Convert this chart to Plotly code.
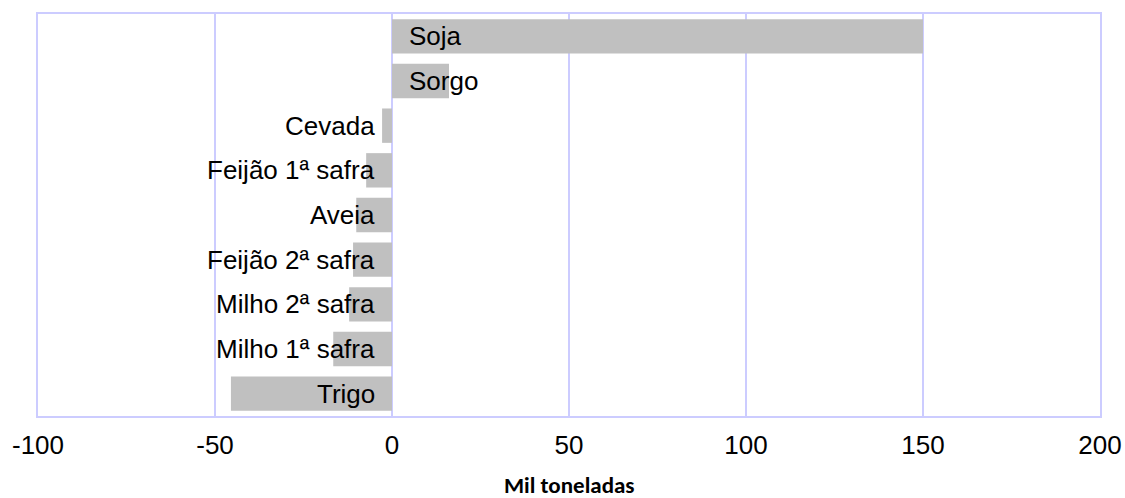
import plotly.graph_objects as go

# dados (mil toneladas), de cima para baixo
culturas = ["Soja", "Sorgo", "Cevada", "Feijão 1ª safra", "Aveia",
            "Feijão 2ª safra", "Milho 2ª safra", "Milho 1ª safra", "Trigo"]
variacao = [150, 16.1, -2.8, -7.3, -10.1, -11.0, -12.1, -16.6, -45.5]

# marcas do eixo x (hífen simples, como no original)
ticks_x = [-100, -50, 0, 50, 100, 150, 200]
ticks_txt = ["-100", "-50", "0", "50", "100", "150", "200"]

COR_BARRA = "#C0C0C0"
COR_GRADE = "#CCCCFF"
COR_TEXTO = "#000000"
FONTE = "Liberation Sans, Arial, sans-serif"

fig = go.Figure()
fig.add_trace(go.Bar(
    x=variacao,
    y=culturas,
    orientation="h",
    marker=dict(color=COR_BARRA, line=dict(width=0)),
    hoverinfo="x+y",
))

# rótulos das culturas junto ao eixo zero
for nome, val in zip(culturas, variacao):
    positivo = val >= 0
    fig.add_annotation(
        x=0, y=nome, text=nome, showarrow=False,
        xanchor="left" if positivo else "right",
        xshift=15 if positivo else -15,
        font=dict(family=FONTE, size=26, color=COR_TEXTO),
    )

fig.add_annotation(
    x=0.5, y=-0.172, xref="paper", yref="paper", text="<b>Mil toneladas</b>",
    showarrow=False, xanchor="center", yanchor="middle",
    font=dict(family="Carlito, Lato, sans-serif", size=23, color=COR_TEXTO),
)

fig.update_layout(
    width=1125, height=498,
    paper_bgcolor="#FFFFFF", plot_bgcolor="#FFFFFF",
    margin=dict(l=38, r=25, t=14, b=82),
    bargap=0.23,
    showlegend=False,
    xaxis=dict(
        range=[-100, 200], tickvals=ticks_x, ticktext=ticks_txt,
        showgrid=True, gridcolor=COR_GRADE, gridwidth=2,
        zeroline=True, zerolinecolor=COR_GRADE, zerolinewidth=2,
        showline=True, linecolor=COR_GRADE, linewidth=2, mirror=True,
        ticks="outside", ticklen=5, tickcolor="rgba(0,0,0,0)",
        tickfont=dict(family=FONTE, size=26, color=COR_TEXTO),
        automargin=False,
    ),
    yaxis=dict(
        categoryorder="array", categoryarray=culturas[::-1],
        showticklabels=False, showgrid=False,
        showline=True, linecolor=COR_GRADE, linewidth=2, mirror=True,
        automargin=False,
    ),
)

# tira a margem padrão do body para a figura ocupar a janela inteira
fig.write_html(
    "out.html",
    config={"displayModeBar": False},
    post_script="document.body.style.margin='0';"
                "document.documentElement.style.overflow='hidden';",
)
